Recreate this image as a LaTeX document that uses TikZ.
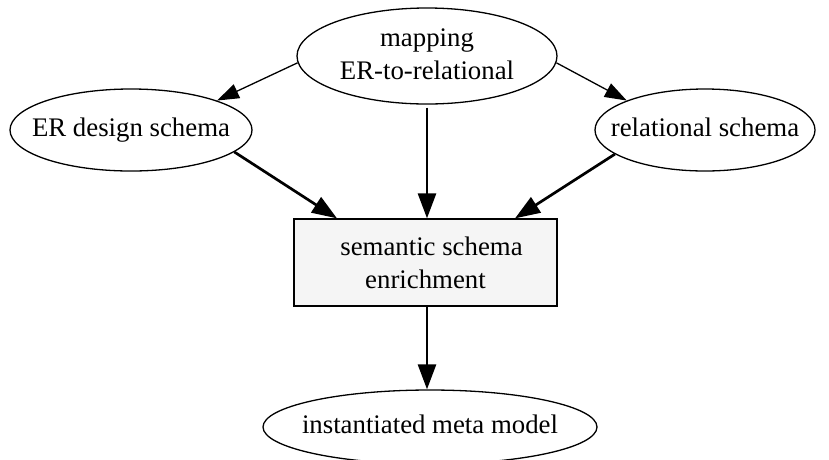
\documentclass[tikz,border=0pt]{standalone}
\usepackage{fontspec}
\setmainfont{Liberation Serif}
\usetikzlibrary{shapes.geometric,arrows.meta}
\newcommand{\ztext}[1]{\makebox[0pt]{\begin{tabular}{@{}c@{}}#1\end{tabular}}}
\tikzset{
  ell/.style={ellipse,draw,line width=1.3pt,inner sep=0pt,font=\fontsize{26.8}{33}\selectfont},
  boxnode/.style={rectangle,draw,line width=1.3pt,fill=black!4,inner sep=0pt,align=center,font=\fontsize{26.8}{33}\selectfont},
  thinarr/.style={line width=1.3pt,-{Triangle[length=22pt,width=15pt]}},
  thickarr/.style={line width=2.7pt,-{Triangle[length=25pt,width=18pt]}}
}
\begin{document}
\begin{tikzpicture}[x=1pt,y=-1pt]
\useasboundingbox (0,0) rectangle (829,459);
\node[ell,minimum width=260pt,minimum height=96pt] (map) at (427,56) {\ztext{mapping\\ER-to-relational}};
\node[ell,minimum width=242pt,minimum height=82pt] (er) at (131,130) {\ztext{ER design schema}};
\node[ell,minimum width=220pt,minimum height=82pt] (rel) at (705,130) {\ztext{relational schema}};
\node[boxnode,minimum width=263pt,minimum height=87pt] (sem) at (425.5,262.5) {\hspace*{12pt}semantic schema\\enrichment};
\node[ell,minimum width=334pt,minimum height=74pt] (inst) at (430,427) {\ztext{instantiated meta model}};
\draw[thinarr] (map.183) -- (er.north east);
\draw[thinarr] (map.-3) -- (rel.north west);
\draw[thickarr,shorten <=3pt] (map.south) -- (map.south |- sem.north);
\draw[thickarr] (er.-12) -- (sem.north west -| 337,0);
\draw[thickarr] (rel.195) -- (sem.north east -| 515,0);
\draw[thickarr] (sem.south -| 427,0) -- (inst.north -| 427,0);
\end{tikzpicture}
\end{document}
